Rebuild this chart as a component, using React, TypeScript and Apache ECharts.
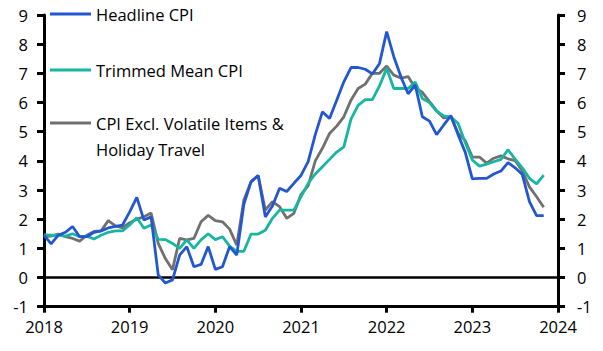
import React, { useEffect, useRef } from "react";
import * as echarts from "echarts";

// Monthly, Jan 2018 (index 0) to Nov 2023 (index 70), % y/y
const headline = [
  1.45, 1.15, 1.45, 1.55, 1.75, 1.4, 1.4, 1.55, 1.6, 1.7, 1.75, 1.8,
  2.25, 2.75, 1.97, 2.08, 0.09, -0.19, -0.08, 0.77, 1.06, 0.37, 0.45, 1.06,
  0.28, 0.37, 1.06, 0.77, 2.52, 3.28, 3.5, 2.08, 2.45, 3.06, 2.95, 3.23,
  3.5, 3.97, 4.9, 5.68, 5.45, 6.08, 6.71, 7.2, 7.2, 7.14, 6.98, 7.34,
  8.43, 7.57, 6.88, 6.3, 6.6, 5.51, 5.36, 4.9, 5.23, 5.55, 4.9, 4.3,
  3.38, 3.4, 3.4, 3.55, 3.65, 3.94, 3.76, 3.53, 2.6, 2.12, 2.12,
];
const trimmedMean = [
  1.46, 1.45, 1.45, 1.42, 1.5, 1.4, 1.42, 1.32, 1.45, 1.55, 1.6, 1.6,
  1.8, 2.05, 1.69, 1.8, 1.31, 1.3, 1.17, 1.0, 1.29, 1.0, 1.29, 1.5,
  1.3, 1.4, 1.08, 0.9, 0.9, 1.49, 1.49, 1.62, 2.03, 2.31, 2.31, 2.31,
  2.77, 3.23, 3.55, 3.8, 4.05, 4.3, 4.48, 5.43, 5.9, 6.1, 6.1, 6.57,
  7.17, 6.48, 6.48, 6.48, 6.7, 6.14, 6.0, 5.7, 5.54, 5.5, 5.29, 4.63,
  4.03, 3.82, 3.89, 3.97, 4.05, 4.38, 4.06, 3.76, 3.4, 3.21, 3.51,
];
const exVolatile = [
  1.4, 1.42, 1.49, 1.4, 1.34, 1.25, 1.45, 1.58, 1.6, 1.95, 1.77, 1.7,
  1.88, 2.0, 2.08, 2.21, 1.17, 0.65, 0.27, 1.34, 1.29, 1.34, 1.91, 2.13,
  1.95, 1.91, 1.66, 1.11, 2.66, 3.28, 3.5, 2.31, 2.6, 2.43, 2.03, 2.2,
  2.85, 3.14, 4.0, 4.43, 4.94, 5.19, 5.51, 6.08, 6.48, 6.63, 7.0, 7.0,
  7.25, 6.94, 6.84, 6.89, 6.5, 6.35, 6.03, 5.72, 5.47, 5.51, 4.95, 4.7,
  4.13, 4.13, 3.92, 4.09, 4.17, 4.07, 4.01, 3.65, 3.11, 2.77, 2.41,
];
const seriesNames = [
  "Headline CPI",
  "Trimmed Mean CPI",
  "CPI Excl. Volatile Items &\nHoliday Travel",
];
const seriesColors = ["#2357d2", "#17b6a2", "#707070"];
const startYear = 2018;
const yMin = -1;
const yMax = 9;

const FONT = "'Open Sans', sans-serif";
const FS = 16.5;

export default function App() {
  const ref = useRef<HTMLDivElement>(null);
  useEffect(() => {
    document.body.style.margin = "0";
    if (!ref.current) return;
    const chart = echarts.init(ref.current, undefined, { renderer: "svg" });
    const all = [headline, trimmedMean, exVolatile];
    const legendY = [14, 70, 123];
    const graphics: any[] = [];
    seriesNames.forEach((name, k) => {
      graphics.push({
        type: "line",
        shape: { x1: 50, y1: legendY[k], x2: 91, y2: legendY[k] },
        style: { stroke: seriesColors[k], lineWidth: 3 },
        z: 10,
      });
      graphics.push({
        type: "text",
        x: 96,
        y: legendY[k] - 12.5,
        style: {
          text: name,
          fill: "#000",
          font: `${FS}px ${FONT}`,
          lineHeight: 26,
          textVerticalAlign: "top",
        },
        z: 10,
      });
    });
    const yAxisBase = (pos: "left" | "right", margin: number) => ({
      type: "value",
      position: pos,
      min: yMin,
      max: yMax,
      interval: 1,
      splitLine: { show: false },
      axisLine: { show: true, onZero: false, lineStyle: { color: "#000", width: 3 } },
      axisTick: { show: true, length: 7, lineStyle: { color: "#000", width: 3 } },
      axisLabel: { color: "#000", fontSize: FS, fontFamily: FONT, margin },
    });
    chart.setOption({
      animation: false,
      grid: { left: 44, right: 45, top: 15, bottom: 44.3, containLabel: false },
      xAxis: {
        type: "value",
        min: 0,
        max: 72,
        interval: 12,
        splitLine: { show: false },
        axisLine: { onZero: false, lineStyle: { color: "#000", width: 3 } },
        axisTick: { length: 6, lineStyle: { color: "#000", width: 3 } },
        axisLabel: {
          color: "#000",
          fontSize: FS,
          fontFamily: FONT,
          margin: 11,
          formatter: (v: number) => String(startYear + Math.round(v / 12)),
        },
      },
      yAxis: [yAxisBase("left", 16), yAxisBase("right", 19)],
      graphic: graphics,
      series: all.map((arr, k) => ({
        name: seriesNames[k],
        type: "line",
        yAxisIndex: 0,
        data: arr.map((v, i) => [i, v]),
        showSymbol: false,
        symbol: "none",
        lineStyle: { color: seriesColors[k], width: 2.8 },
        z: 5 - k,
        markLine:
          k === 0
            ? {
                silent: true,
                symbol: "none",
                label: { show: false },
                lineStyle: { color: "#000", width: 2.5, type: "solid" },
                data: [{ yAxis: 0 }],
                z: 1,
              }
            : undefined,
      })),
    });
    return () => chart.dispose();
  }, []);
  return <div ref={ref} style={{ width: 603, height: 351 }} />;
}
